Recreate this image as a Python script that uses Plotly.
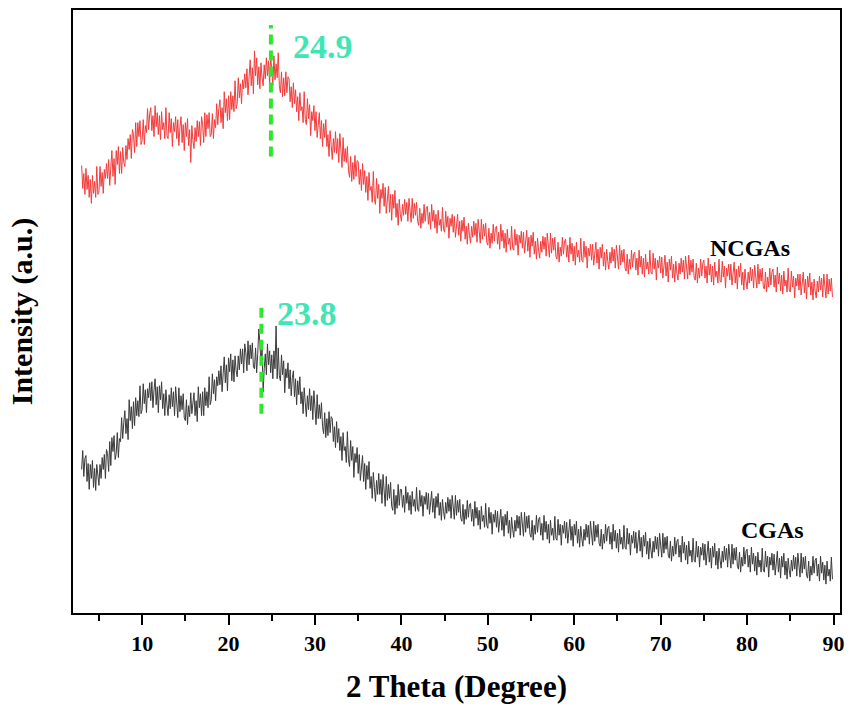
import numpy as np
import plotly.graph_objects as go

# 2-theta scan grid (degrees)
THETA_START = 3.0
THETA_STEP = 0.125

# Diffracted intensity (a.u.), eight readings per degree of 2-theta (3°–89.875°)
INTENSITY_NCGAS = [
    449, 426, 441, 420, 446, 425, 439, 417,
    435, 411, 439, 421, 433, 417, 448, 420,
    422, 448, 428, 442, 421, 445, 436, 451,
    436, 455, 429, 447, 464, 438, 456, 430,
    464, 450, 468, 441, 463, 441, 467, 452,
    448, 469, 455, 476, 465, 480, 456, 485,
    480, 462, 492, 468, 492, 478, 494, 470,
    474, 495, 470, 489, 482, 506, 485, 501,
    507, 484, 499, 478, 509, 488, 502, 480,
    499, 475, 503, 485, 492, 476, 507, 479,
    476, 502, 482, 496, 468, 492, 483, 498,
    476, 495, 469, 487, 498, 472, 490, 464,
    492, 478, 496, 469, 485, 452, 489, 474,
    466, 487, 473, 494, 478, 493, 469, 498,
    490, 472, 502, 478, 500, 486, 502, 478,
    480, 501, 476, 495, 487, 511, 490, 506,
    515, 492, 507, 486, 523, 502, 516, 494,
    519, 495, 523, 505, 519, 503, 534, 506,
    511, 537, 517, 531, 511, 535, 526, 541,
    527, 546, 520, 538, 555, 529, 547, 521,
    564, 539, 557, 530, 548, 526, 552, 537,
    529, 550, 536, 557, 539, 554, 530, 559,
    547, 529, 559, 535, 551, 537, 562, 529,
    522, 543, 518, 537, 519, 543, 522, 538,
    536, 513, 528, 507, 532, 511, 525, 503,
    518, 494, 522, 504, 508, 492, 523, 495,
    490, 516, 496, 510, 479, 503, 494, 509,
    484, 503, 477, 495, 502, 476, 494, 468,
    491, 477, 495, 468, 480, 458, 484, 469,
    455, 476, 462, 483, 461, 476, 452, 481,
    465, 447, 477, 453, 466, 452, 468, 444,
    437, 458, 433, 452, 435, 459, 438, 454,
    453, 430, 445, 424, 451, 430, 444, 422,
    438, 414, 442, 424, 428, 412, 443, 415,
    410, 436, 416, 430, 401, 425, 416, 431,
    408, 427, 401, 419, 428, 402, 420, 394,
    420, 406, 424, 397, 411, 389, 415, 400,
    393, 410, 399, 415, 400, 412, 393, 416,
    406, 392, 416, 396, 411, 399, 412, 393,
    389, 406, 386, 401, 391, 410, 393, 406,
    408, 390, 402, 385, 410, 393, 404, 386,
    400, 381, 404, 389, 395, 383, 407, 385,
    382, 403, 387, 398, 376, 396, 388, 400,
    382, 398, 377, 391, 400, 379, 393, 373,
    394, 383, 397, 375, 388, 370, 391, 379,
    371, 388, 377, 393, 379, 391, 372, 395,
    385, 371, 395, 375, 390, 378, 391, 372,
    369, 386, 366, 381, 371, 390, 373, 386,
    388, 370, 382, 365, 390, 373, 384, 366,
    381, 362, 385, 370, 376, 364, 388, 366,
    364, 385, 369, 380, 359, 379, 371, 383,
    366, 382, 361, 375, 384, 363, 377, 357,
    379, 368, 382, 360, 373, 355, 376, 364,
    356, 373, 362, 378, 365, 377, 358, 381,
    371, 357, 381, 361, 376, 364, 377, 358,
    355, 372, 352, 367, 358, 377, 360, 373,
    375, 357, 369, 352, 377, 360, 371, 353,
    368, 349, 372, 357, 364, 352, 376, 354,
    352, 373, 357, 368, 346, 366, 358, 370,
    354, 370, 349, 363, 372, 351, 365, 345,
    367, 356, 370, 348, 362, 344, 365, 353,
    345, 362, 351, 367, 353, 365, 346, 369,
    359, 345, 369, 349, 364, 352, 365, 346,
    343, 360, 340, 355, 345, 364, 347, 360,
    362, 344, 356, 339, 364, 347, 358, 340,
    356, 337, 360, 345, 352, 340, 364, 342,
    340, 361, 345, 356, 334, 354, 346, 358,
    341, 357, 336, 350, 359, 338, 352, 332,
    355, 344, 358, 336, 350, 332, 353, 341,
    334, 351, 340, 356, 342, 354, 335, 358,
    349, 335, 359, 339, 354, 342, 355, 336,
    334, 351, 331, 346, 336, 355, 338, 351,
    354, 336, 348, 331, 356, 339, 350, 332,
    348, 329, 352, 337, 343, 331, 355, 333,
    332, 353, 337, 348, 326, 346, 338, 350,
    334, 350, 329, 343, 352, 331, 345, 325,
    348, 337, 351, 329, 342, 324, 345, 333,
    325, 342, 331, 347, 333, 345, 326, 349,
    340, 326, 350, 330, 345, 333, 346, 327,
    325, 342, 322, 337, 327, 346, 329, 342,
    345, 327, 339, 322, 347, 330, 341, 323,
    339, 320, 343, 328, 334, 322, 346, 324,
    322, 343, 327, 338, 316, 336, 328, 340,
    324, 340, 319, 333, 342, 321, 335, 315,
    338, 327, 341, 319, 332, 314, 335, 323,
    316, 333, 322, 338, 324, 336, 317, 340,
    330, 316, 340, 320, 335, 323, 336, 317,
]

INTENSITY_CGAS = [
    144, 163, 137, 155, 158, 132, 150, 124,
    149, 135, 153, 126, 145, 123, 149, 134,
    128, 149, 135, 156, 144, 159, 135, 164,
    160, 142, 172, 148, 176, 162, 178, 154,
    160, 181, 156, 175, 172, 196, 175, 191,
    203, 180, 195, 174, 214, 193, 207, 185,
    212, 188, 216, 198, 213, 197, 228, 200,
    204, 230, 210, 224, 201, 225, 216, 231,
    213, 232, 206, 224, 235, 209, 227, 201,
    228, 214, 232, 205, 220, 198, 224, 209,
    198, 219, 205, 226, 207, 222, 198, 227,
    214, 196, 226, 202, 218, 204, 220, 196,
    193, 214, 189, 208, 197, 221, 200, 216,
    221, 198, 213, 192, 227, 206, 220, 198,
    222, 198, 226, 208, 222, 206, 237, 209,
    214, 240, 220, 234, 213, 237, 228, 243,
    229, 248, 222, 240, 257, 231, 249, 223,
    256, 242, 260, 233, 254, 232, 258, 243,
    237, 258, 244, 265, 250, 265, 241, 270,
    261, 243, 273, 249, 269, 255, 271, 247,
    245, 266, 241, 260, 285, 271, 250, 266,
    222, 245, 260, 239, 270, 249, 263, 241,
    259, 235, 263, 245, 288, 235, 266, 238,
    233, 259, 239, 253, 221, 245, 236, 251,
    225, 244, 218, 236, 243, 217, 235, 209,
    233, 219, 237, 210, 222, 200, 226, 211,
    197, 218, 204, 225, 203, 218, 194, 223,
    207, 189, 219, 195, 209, 195, 211, 187,
    180, 201, 176, 195, 178, 202, 181, 197,
    195, 172, 187, 166, 192, 171, 185, 163,
    177, 153, 181, 163, 167, 151, 182, 154,
    147, 173, 153, 167, 136, 160, 151, 166,
    140, 159, 133, 151, 158, 132, 150, 124,
    148, 134, 152, 125, 137, 115, 141, 126,
    112, 133, 119, 140, 119, 134, 110, 139,
    125, 107, 137, 113, 129, 115, 131, 107,
    103, 124, 99, 118, 105, 129, 108, 124,
    124, 106, 118, 101, 127, 110, 121, 103,
    118, 99, 122, 107, 114, 102, 126, 104,
    102, 123, 107, 118, 97, 117, 109, 121,
    104, 120, 99, 113, 122, 101, 115, 95,
    117, 106, 120, 98, 111, 93, 114, 102,
    94, 111, 100, 116, 102, 114, 95, 118,
    108, 94, 118, 98, 113, 101, 114, 95,
    92, 109, 89, 104, 94, 113, 96, 109,
    110, 92, 104, 87, 112, 95, 106, 88,
    103, 84, 107, 92, 98, 86, 110, 88,
    85, 106, 90, 101, 79, 99, 91, 103,
    86, 102, 81, 95, 104, 83, 97, 77,
    99, 88, 102, 80, 93, 75, 96, 84,
    76, 93, 82, 98, 85, 97, 78, 101,
    91, 77, 101, 81, 97, 85, 98, 79,
    76, 93, 73, 88, 79, 98, 81, 94,
    96, 78, 90, 73, 98, 81, 92, 74,
    89, 70, 93, 78, 85, 73, 97, 75,
    73, 94, 78, 89, 68, 88, 80, 92,
    75, 91, 70, 84, 94, 73, 87, 67,
    89, 78, 92, 70, 84, 66, 87, 75,
    67, 84, 73, 89, 76, 88, 69, 92,
    82, 68, 92, 72, 88, 76, 89, 70,
    67, 84, 64, 79, 70, 89, 72, 85,
    87, 69, 81, 64, 89, 72, 83, 65,
    80, 61, 84, 69, 76, 64, 88, 66,
    64, 85, 69, 80, 58, 78, 70, 82,
    65, 81, 60, 74, 83, 62, 76, 56,
    78, 67, 81, 59, 72, 54, 75, 63,
    55, 72, 61, 77, 64, 76, 57, 80,
    70, 56, 80, 60, 76, 64, 77, 58,
    55, 72, 52, 67, 57, 76, 59, 72,
    74, 56, 68, 51, 77, 60, 71, 53,
    68, 49, 72, 57, 63, 51, 75, 53,
    51, 72, 56, 67, 46, 66, 58, 70,
    53, 69, 48, 62, 72, 51, 65, 45,
    67, 56, 70, 48, 62, 44, 65, 53,
    45, 62, 51, 67, 53, 65, 46, 69,
    59, 45, 69, 49, 65, 53, 66, 47,
    44, 61, 41, 56, 47, 66, 49, 62,
    64, 46, 58, 41, 66, 49, 60, 42,
    57, 38, 61, 46, 53, 41, 65, 43,
    41, 62, 46, 57, 36, 56, 48, 60,
    43, 59, 38, 52, 62, 41, 55, 35,
    57, 46, 60, 38, 52, 34, 55, 43,
    36, 53, 42, 58, 44, 56, 37, 60,
    50, 36, 60, 40, 56, 44, 57, 38,
    35, 52, 32, 47, 38, 57, 40, 53,
    55, 37, 49, 32, 57, 40, 51, 33,
    48, 29, 52, 37, 44, 32, 56, 34,
]

# Peak positions marked on each pattern (degrees)
PEAK_NCGAS = 24.9
PEAK_CGAS = 23.8

# Extent of the peak markers (intensity a.u.)
PEAK_MARK_NCGAS = (458, 590)
PEAK_MARK_CGAS = (200, 310)

SERIES_NAMES = ["NCGAs", "CGAs"]
X_TICKS = [10, 20, 30, 40, 50, 60, 70, 80, 90]
X_MINOR_TICKS = [5, 15, 25, 35, 45, 55, 65, 75, 85]

theta_ncgas = THETA_START + THETA_STEP * np.arange(len(INTENSITY_NCGAS))
theta_cgas = THETA_START + THETA_STEP * np.arange(len(INTENSITY_CGAS))

SERIF = "Liberation Serif, Times New Roman, serif"
PEAK_TEXT_COLOR = "#3FE6B4"
PEAK_LINE_COLOR = "#2EE62E"

fig = go.Figure()
fig.add_trace(go.Scatter(
    x=theta_ncgas, y=INTENSITY_NCGAS, mode="lines", name=SERIES_NAMES[0],
    line=dict(color="#F23C3C", width=1),
))
fig.add_trace(go.Scatter(
    x=theta_cgas, y=INTENSITY_CGAS, mode="lines", name=SERIES_NAMES[1],
    line=dict(color="#3A3A3A", width=1),
))

# Dashed markers at the broad diffraction maxima
for peak, (y0, y1) in ((PEAK_NCGAS, PEAK_MARK_NCGAS), (PEAK_CGAS, PEAK_MARK_CGAS)):
    fig.add_shape(type="line", xref="x", yref="y", x0=peak, x1=peak, y0=y0, y1=y1,
                  line=dict(color=PEAK_LINE_COLOR, width=4, dash="10px,6px"))

annotations = [
    dict(x=PEAK_NCGAS + 2.3, y=568, text=f"{PEAK_NCGAS}", xanchor="left", yanchor="middle",
         font=dict(family=SERIF, size=34, color=PEAK_TEXT_COLOR, weight="bold")),
    dict(x=PEAK_CGAS + 1.6, y=301, text=f"{PEAK_CGAS}", xanchor="left", yanchor="middle",
         font=dict(family=SERIF, size=34, color=PEAK_TEXT_COLOR, weight="bold")),
    dict(x=80.3, y=366, text=SERIES_NAMES[0], xanchor="center", yanchor="middle",
         font=dict(family=SERIF, size=24, color="black", weight="bold")),
    dict(x=82.9, y=83, text=SERIES_NAMES[1], xanchor="center", yanchor="middle",
         font=dict(family=SERIF, size=24, color="black", weight="bold")),
]
for a in annotations:
    a.update(xref="x", yref="y", showarrow=False)
fig.update_layout(annotations=annotations)

fig.update_layout(
    width=852, height=711,
    margin=dict(l=73, r=9, t=8, b=98),
    paper_bgcolor="white", plot_bgcolor="white",
    showlegend=False,
    font=dict(family=SERIF, color="black"),
    xaxis=dict(
        range=[2.0, 90.75], tickvals=X_TICKS, ticktext=[str(t) for t in X_TICKS],
        ticks="outside", ticklen=10, tickwidth=2, tickcolor="black",
        minor=dict(tickvals=X_MINOR_TICKS, ticks="outside",
                   ticklen=6, tickwidth=2, tickcolor="black"),
        showline=True, linewidth=2, linecolor="black", mirror=True,
        showgrid=False, zeroline=False,
        tickfont=dict(family=SERIF, size=22, color="black", weight="bold"),
        title=dict(text="2 Theta (Degree)", standoff=20,
                   font=dict(family=SERIF, size=31, color="black", weight="bold")),
    ),
    yaxis=dict(
        range=[0, 605], showticklabels=False, ticks="",
        showline=True, linewidth=2, linecolor="black", mirror=True,
        showgrid=False, zeroline=False,
        title=dict(text="Intensity (a.u.)", standoff=30,
                   font=dict(family=SERIF, size=30, color="black", weight="bold")),
    ),
)

fig.write_html("out.html")
